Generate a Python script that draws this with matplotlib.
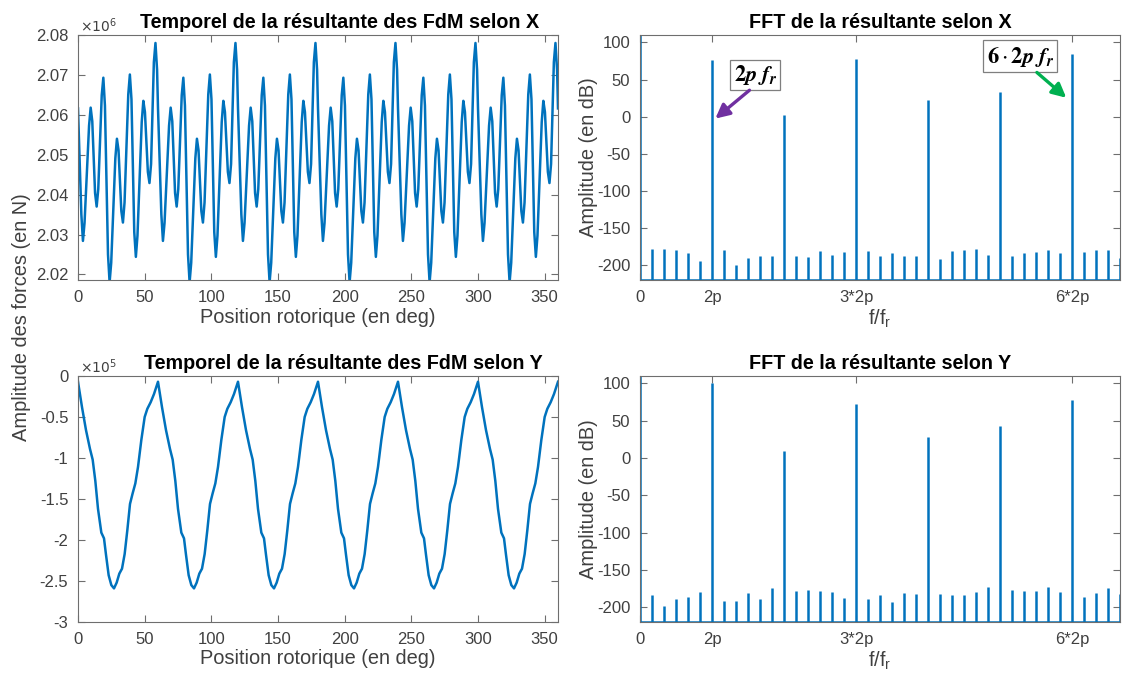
import numpy as np
import matplotlib
matplotlib.use('Agg')
import matplotlib.pyplot as plt

plt.rcParams.update({'font.family': ['Liberation Sans', 'DejaVu Sans'], 'font.size': 12,
                     'axes.unicode_minus': False})

BLUE = '#0072BD'
TXT = '#404040'
EDGE = '#6e6e6e'

# ---- time signals (one 60 deg period, all six periods look the same)
period_start = [0, 60, 120, 180, 240, 300]

# X resultant (x 1e6 N): points inside a period
fx_off = [0, 2.5, 3.7, 4.9, 8.3, 9.5, 10.7, 12.8, 14.0, 15.2, 17.8, 19.0, 20.2, 22.5, 23.7, 24.9,
          28.0, 29.2, 30.4, 32.5, 33.7, 34.9, 37.7, 38.9, 40.1, 42.2, 43.4, 44.6, 47.8, 49.0,
          50.2, 52.4, 53.6, 54.8, 56.9, 58.1, 59.3]
fx_val = [2.0616, 2.0351, 2.0284, 2.0329, 2.0573, 2.0618, 2.0584, 2.0404, 2.0370, 2.0414,
          2.0649, 2.0693, 2.0623, 2.0250, 2.0180, 2.0229, 2.0491, 2.0540, 2.0511, 2.0359,
          2.0330, 2.0380, 2.0651, 2.0701, 2.0639, 2.0306, 2.0244, 2.0297, 2.0582, 2.0635,
          2.0607, 2.0457, 2.0429, 2.0477, 2.0732, 2.0780, 2.0713]
fx_last = (360.0, 2.0616)

# Y resultant (x 1e5 N)
fy_off = [0, 3, 6, 9, 11, 13, 15, 17.5, 19.5, 21, 23, 25, 27, 29, 31, 33, 35, 37, 39, 41,
          43, 45, 47.5, 50, 52, 54.5, 57]
fy_val = [-0.07, -0.38, -0.66, -0.89, -1.02, -1.28, -1.62, -1.91, -1.98, -2.18, -2.43, -2.55,
          -2.59, -2.52, -2.41, -2.35, -2.17, -1.88, -1.56, -1.43, -1.31, -1.11, -0.78, -0.50,
          -0.40, -0.32, -0.22]
fy_last = (360.0, -0.07)

# ---- spectra (dB) at f/fr = 0..40
harm = list(range(41))
fft_x = [115, -178, -178, -180, -184, -194, 76, -180, -200, -190, -188, -188, 2, -187, -189,
         -181, -186, -182, 78, -181, -188, -184, -188, -188, 22, -192, -181, -180, -178, -186,
         33, -187, -184, -182, -180, -184, 84, -182, -179, -180, -190]
fft_y = [115, -184, -199, -189, -186, -180, 100, -192, -192, -181, -189, -175, 9, -179, -177,
         -179, -180, -188, 73, -189, -184, -193, -181, -182, 28, -182, -184, -184, -180, -173,
         43, -177, -179, -179, -173, -180, 78, -187, -181, -175, -182]
fft_ticks = [0, 6, 18, 36]
fft_ticklabels = ['0', '2p', '3*2p', '6*2p']

W, H = 1122, 677
fig = plt.figure(figsize=(W / 100, H / 100), dpi=100)

def box(l, t, r, b):
    return [l / W, 1 - b / H, (r - l) / W, (b - t) / H]

ax1 = fig.add_axes(box(78, 35, 558, 280))
ax2 = fig.add_axes(box(640, 35, 1120, 280))
ax3 = fig.add_axes(box(78, 376, 558, 622))
ax4 = fig.add_axes(box(640, 376, 1120, 622))

def style(ax):
    ax.tick_params(direction='in', top=True, right=True, length=5, width=0.8,
                   colors=EDGE, labelcolor=TXT, labelsize=12, pad=7)
    for s in ax.spines.values():
        s.set_color(EDGE)
        s.set_linewidth(0.8)

TFS = 14.2  # title size
LFS = 14.4  # axis label size

# time X
xs, ys = [], []
for p in period_start:
    xs += [p + o for o in fx_off]
    ys += fx_val
xs.append(fx_last[0]); ys.append(fx_last[1])
ax1.plot(xs, ys, color=BLUE, lw=1.8)
ax1.set_xlim(0, 360)
ax1.set_ylim(2.0186, 2.08)
ax1.set_yticks([2.02, 2.03, 2.04, 2.05, 2.06, 2.07, 2.08])
ax1.set_yticklabels(['2.02', '2.03', '2.04', '2.05', '2.06', '2.07', '2.08'])
ax1.set_xticks(range(0, 360, 50))
ax1.text(0.004, 1.0, r'$\times10^{6}$', transform=ax1.transAxes, color=TXT, fontsize=10,
         ha='left', va='bottom')
ax1.set_title('Temporel de la résultante des FdM selon X', fontweight='bold', fontsize=TFS,
              x=0.545, pad=5)
ax1.set_xlabel('Position rotorique (en deg)', color=TXT, fontsize=LFS, labelpad=2)

# time Y
xs, ys = [], []
for p in period_start:
    xs += [p + o for o in fy_off]
    ys += fy_val
xs.append(fy_last[0]); ys.append(fy_last[1])
ax3.plot(xs, ys, color=BLUE, lw=1.8)
ax3.set_xlim(0, 360)
ax3.set_ylim(-3, 0)
yt = [-3, -2.5, -2, -1.5, -1, -0.5, 0]
ax3.set_yticks(yt)
ax3.set_yticklabels(['%g' % v for v in yt])
ax3.set_xticks(range(0, 360, 50))
ax3.text(0.004, 1.0, r'$\times10^{5}$', transform=ax3.transAxes, color=TXT, fontsize=10,
         ha='left', va='bottom')
ax3.set_title('Temporel de la résultante des FdM selon Y', fontweight='bold', fontsize=TFS,
              x=0.553, pad=5)
ax3.set_xlabel('Position rotorique (en deg)', color=TXT, fontsize=LFS, labelpad=2)

# spectra
for ax, vals, ttl in [(ax2, fft_x, 'FFT de la résultante selon X'),
                      (ax4, fft_y, 'FFT de la résultante selon Y')]:
    ax.vlines(harm, -220, vals, color=BLUE, lw=1.8)
    ax.axhline(-220, color=BLUE, lw=1.8)
    ax.set_xlim(0, 40)
    ax.set_ylim(-220, 110)
    ax.set_yticks(range(-200, 101, 50))
    ax.set_xticks(fft_ticks)
    ax.set_xticklabels(fft_ticklabels)
    ax.set_title(ttl, fontweight='bold', fontsize=TFS, pad=5)
    ax.set_xlabel(r'f/f$_\mathregular{r}$', color=TXT, fontsize=LFS, labelpad=2)
    ax.set_ylabel('Amplitude (en dB)', color=TXT, fontsize=LFS)
    ax.yaxis.set_label_coords(-0.087, 0.5)

for ax in (ax1, ax2, ax3, ax4):
    style(ax)

fig.text(22 / W, 1 - 317 / H, 'Amplitude des forces (en N)', rotation=90, color=TXT,
         fontsize=LFS, ha='center', va='center')

# annotations on the X spectrum
lab = dict(fontsize=16, color='black', ha='center', va='center', math_fontfamily='stix',
           bbox=dict(boxstyle='square,pad=0.15', fc='white', ec='#7f7f7f', lw=0.9))
ax2.text(9.6, 56, r'$\mathbf{2}\mathbfit{p\ f_r}$', **lab)
ax2.annotate('', xy=(6.1, -5), xytext=(9.3, 38),
             arrowprops=dict(arrowstyle='-|>,head_length=0.7,head_width=0.35',
                             color='#7030A0', lw=2.4))
ax2.text(31.7, 81.5, r'$\mathbf{6}\cdot\mathbf{2}\mathbfit{p\ f_r}$', **lab)
ax2.annotate('', xy=(35.7, 23), xytext=(32.9, 62),
             arrowprops=dict(arrowstyle='-|>,head_length=0.7,head_width=0.35',
                             color='#00B050', lw=2.4))

fig.savefig('out.png', dpi=100)
